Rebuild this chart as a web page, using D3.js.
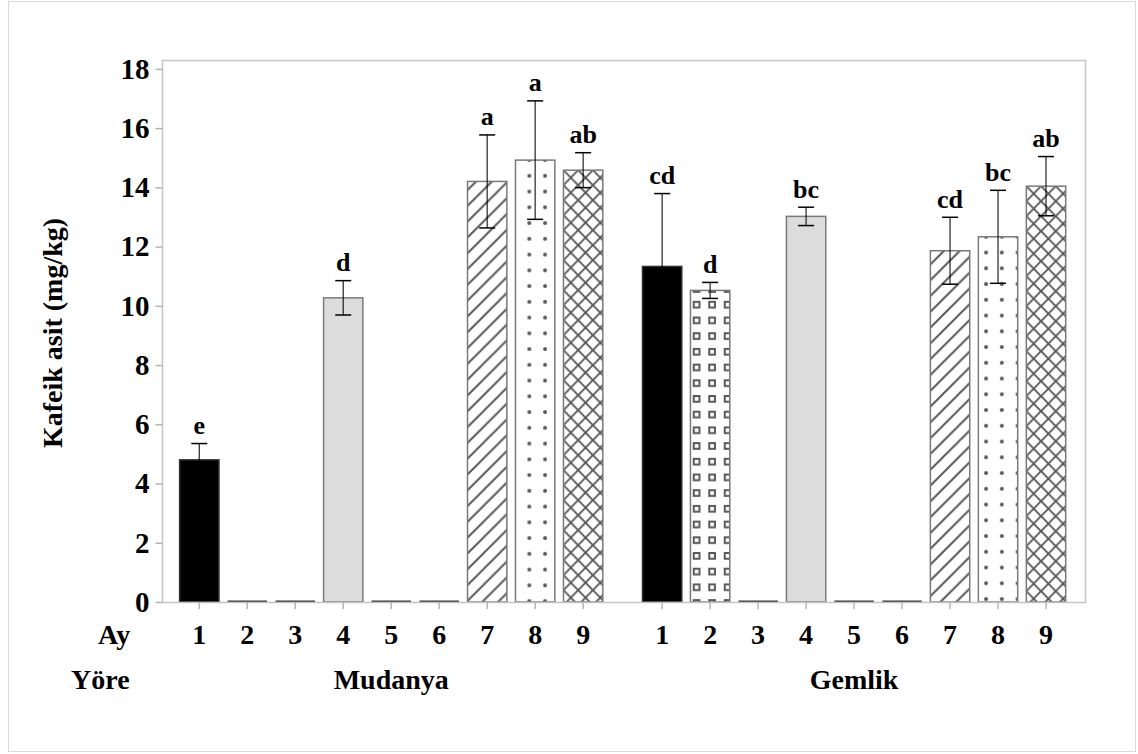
<!DOCTYPE html>
<html>
<head>
<meta charset="utf-8">
<script src="https://cdn.jsdelivr.net/npm/d3@7"></script>
<style>
  html, body { margin: 0; padding: 0; background: #fff; }
  svg { display: block; }
  svg text { font-family: "Liberation Serif", "Times New Roman", serif; font-weight: bold; fill: #000; }
</style>
</head>
<body>
<svg id="chart" width="1138" height="754"></svg>
<script>
// ---- data ----
const regions = ["Mudanya", "Gemlik"];
const months = ["1", "2", "3", "4", "5", "6", "7", "8", "9"];

const mudanyaMeans   = [4.80, 0, 0, 10.27, 0, 0, 14.20, 14.92, 14.58];
const mudanyaErrors  = [0.55, 0, 0, 0.58, 0, 0, 1.57, 2.00, 0.59];
const mudanyaLetters = ["e", "", "", "d", "", "", "a", "a", "ab"];

const gemlikMeans   = [11.33, 10.52, 0, 13.02, 0, 0, 11.86, 12.33, 14.04];
const gemlikErrors  = [2.46, 0.27, 0, 0.31, 0, 0, 1.13, 1.57, 1.00];
const gemlikLetters = ["cd", "d", "", "bc", "", "", "cd", "bc", "ab"];

const yTicks = [0, 2, 4, 6, 8, 10, 12, 14, 16, 18];
const yTitle = "Kafeik asit (mg/kg)";
const monthAxisTitle = "Ay";
const regionAxisTitle = "Yöre";

// fill style of each month's bar
const monthStyle = {
  "1": "black", "2": "squares", "3": "plain", "4": "gray", "5": "plain",
  "6": "plain", "7": "hatch", "8": "dots", "9": "cross"
};

const series = {
  Mudanya: { means: mudanyaMeans, errors: mudanyaErrors, letters: mudanyaLetters },
  Gemlik:  { means: gemlikMeans,  errors: gemlikErrors,  letters: gemlikLetters }
};
const bars = regions.flatMap(r => months.map((m, i) => ({
  region: r, month: m,
  value: series[r].means[i], err: series[r].errors[i], letter: series[r].letters[i]
})));

// ---- layout ----
const FONT = "Liberation Serif, Times New Roman, serif";
const svg = d3.select("#chart").attr("font-family", FONT).attr("font-weight", "bold");
const frame = { left: 162.5, top: 60.5, right: 1085.5, bottom: 602.5 };

const y = d3.scaleLinear().domain([0, 18.3]).range([602, 60]);
const xRegion = d3.scaleBand().domain(regions).range([175.3, 1070]).paddingInner(0.067);
const xMonth = d3.scaleBand().domain(months).range([0, xRegion.bandwidth()])
  .paddingInner(0.18).paddingOuter(0.09);
const barX = d => xRegion(d.region) + xMonth(d.month);
const barCx = d => barX(d) + xMonth.bandwidth() / 2;

const label = (sel, size) => sel
  .attr("font-family", FONT).attr("font-weight", "bold")
  .attr("font-size", size).attr("fill", "#000");

// page border
svg.append("rect")
  .attr("x", 8.5).attr("y", 1.5).attr("width", 1127).attr("height", 750)
  .attr("fill", "none").attr("stroke", "#dadada").attr("stroke-width", 1);

// ---- fill patterns, one per patterned bar ----
const defs = svg.append("defs");
const ink = "#595959";
function patternFor(d, i) {
  const kind = monthStyle[d.month];
  const x0 = barX(d), top = y(d.value);
  const id = "pat" + i;
  let p;
  if (kind === "squares") {
    p = defs.append("pattern").attr("id", id).attr("patternUnits", "userSpaceOnUse")
      .attr("x", x0 + 2.3).attr("y", top - 5.3).attr("width", 15.5).attr("height", 15.7);
    p.append("rect").attr("width", 15.5).attr("height", 15.7).attr("fill", "#fff");
    p.append("rect").attr("x", 1).attr("y", 1).attr("width", 5.7).attr("height", 5.7)
      .attr("fill", "none").attr("stroke", ink).attr("stroke-width", 2);
  } else if (kind === "dots") {
    p = defs.append("pattern").attr("id", id).attr("patternUnits", "userSpaceOnUse")
      .attr("x", 1.7).attr("y", top - 7.9).attr("width", 15.75).attr("height", 15.75);
    p.append("rect").attr("width", 15.75).attr("height", 15.75).attr("fill", "#fff");
    p.append("circle").attr("cx", 7.875).attr("cy", 7.875).attr("r", 2).attr("fill", ink);
  } else if (kind === "hatch") {
    const s = 15.8;
    p = defs.append("pattern").attr("id", id).attr("patternUnits", "userSpaceOnUse")
      .attr("x", 9.8).attr("y", 0).attr("width", s).attr("height", s);
    p.append("rect").attr("width", s).attr("height", s).attr("fill", "#fff");
    p.append("path").attr("d", `M-2,2 L2,-2 M0,${s} L${s},0 M${s - 2},${s + 2} L${s + 2},${s - 2}`)
      .attr("stroke", ink).attr("stroke-width", 2).attr("fill", "none");
  } else if (kind === "cross") {
    const w = 14.7, h = 15;
    p = defs.append("pattern").attr("id", id).attr("patternUnits", "userSpaceOnUse")
      .attr("x", x0).attr("y", top).attr("width", w).attr("height", h);
    p.append("rect").attr("width", w).attr("height", h).attr("fill", "#fff");
    p.append("path").attr("d", `M0,0 L${w},${h} M0,${h} L${w},0`)
      .attr("stroke", ink).attr("stroke-width", 1.9).attr("fill", "none");
  } else {
    return kind === "black" ? "#000" : kind === "gray" ? "#dcdcdc" : "#fff";
  }
  return `url(#${id})`;
}

// ---- bars ----
const gBars = svg.append("g");
bars.forEach((d, i) => {
  const fill = patternFor(d, i);
  if (d.value > 0) {
    gBars.append("rect")
      .attr("x", barX(d)).attr("y", y(d.value))
      .attr("width", xMonth.bandwidth()).attr("height", y(0) - y(d.value))
      .attr("fill", fill)
      .attr("stroke", monthStyle[d.month] === "black" ? "#333" : "#7a7a7a")
      .attr("stroke-width", 1.5);
  } else {
    // zero-valued bar collapses to its baseline edge
    gBars.append("line")
      .attr("x1", barX(d)).attr("x2", barX(d) + xMonth.bandwidth())
      .attr("y1", y(d.value) - 0.5).attr("y2", y(d.value) - 0.5)
      .attr("stroke", "#333").attr("stroke-width", 2);
  }
});

// ---- frame and axes ----
svg.append("rect")
  .attr("x", frame.left).attr("y", frame.top)
  .attr("width", frame.right - frame.left).attr("height", frame.bottom - frame.top)
  .attr("fill", "none").attr("stroke", "#c4c4c4").attr("stroke-width", 1.5);

const yAxis = svg.append("g")
  .attr("transform", `translate(${frame.left},0)`)
  .call(d3.axisLeft(y).tickValues(yTicks).tickSize(7).tickPadding(6).tickFormat(d3.format("d")));
yAxis.attr("font-family", FONT);
yAxis.select(".domain").remove();
yAxis.selectAll(".tick line").attr("stroke", "#b4b4b4").attr("stroke-width", 1.5);
label(yAxis.selectAll(".tick text"), 29);

regions.forEach(r => {
  const gx = svg.append("g")
    .attr("transform", `translate(${xRegion(r)},${frame.bottom})`)
    .call(d3.axisBottom(xMonth).tickSize(6.5).tickPadding(15));
  gx.attr("font-family", FONT);
  gx.select(".domain").remove();
  gx.selectAll(".tick line").attr("stroke", "#b4b4b4").attr("stroke-width", 1.5);
  label(gx.selectAll(".tick text"), 28);

  label(svg.append("text"), 28)
    .attr("x", xRegion(r) + xRegion.bandwidth() / 2).attr("y", 689)
    .attr("text-anchor", "middle")
    .text(r);
});

label(svg.append("text"), 28).attr("x", 98).attr("y", 644).text(monthAxisTitle);
label(svg.append("text"), 28).attr("x", 71).attr("y", 689).text(regionAxisTitle);

label(svg.append("text"), 28)
  .attr("transform", `translate(62,333) rotate(-90)`)
  .attr("text-anchor", "middle")
  .text(yTitle);

// ---- error bars ----
const gErr = svg.append("g");
const cap = 8;
bars.filter(d => d.err > 0).forEach(d => {
  const cx = barCx(d), hi = y(d.value + d.err), lo = y(d.value - d.err);
  gErr.append("line").attr("x1", cx).attr("x2", cx).attr("y1", hi).attr("y2", lo)
    .attr("stroke", "#000").attr("stroke-width", 1.3).attr("stroke-opacity", 0.8);
  [hi, lo].forEach(yy => gErr.append("line")
    .attr("x1", cx - cap).attr("x2", cx + cap).attr("y1", yy).attr("y2", yy)
    .attr("stroke", "#000").attr("stroke-width", 1.5));
});

// ---- significance letters ----
label(svg.append("g").selectAll("text")
  .data(bars.filter(d => d.letter))
  .join("text"), 26)
  .attr("x", barCx)
  .attr("y", d => y(d.value + d.err) - 9.5)
  .attr("text-anchor", "middle")
  .text(d => d.letter);
</script>
</body>
</html>
